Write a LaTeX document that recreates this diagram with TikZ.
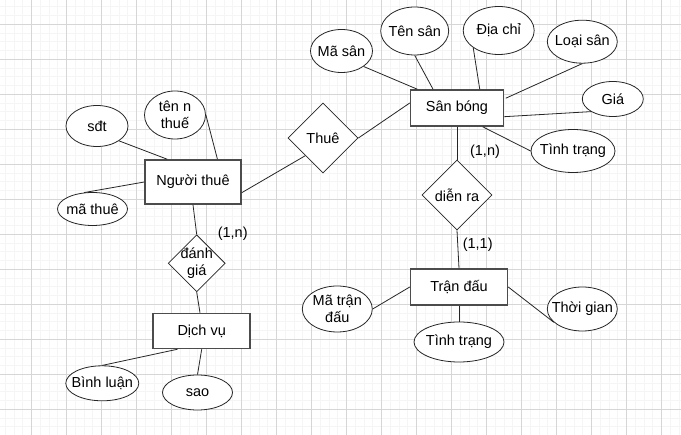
\documentclass[tikz,border=0pt]{standalone}
\usepackage{fontspec}
\setmainfont{Liberation Sans}
\usetikzlibrary{shapes.geometric}
\begin{document}
\begin{tikzpicture}[x=1pt,y=-1pt, font=\fontsize{14.5}{17}\selectfont,
 ent/.style={rectangle, draw=black!70, line width=1.5pt, fill=white, inner sep=0pt},
 attr/.style={ellipse, draw=black!85, line width=0.8pt, fill=white, inner sep=0pt},
 rel/.style={diamond, draw=black!85, line width=0.8pt, fill=white, inner sep=0pt},
 conn/.style={draw=black!85, line width=0.8pt},
 card/.style={inner sep=0pt, text=black},
 every label/.style={align=center, inner sep=0pt}]
\fill[white] (0,0) rectangle (681,435);
\useasboundingbox (0,0) rectangle (681,435);
% grid
\foreach \i in {0,...,77} \draw[black!4, line width=0.8pt] ({5.25+8.75*\i},0) -- ({5.25+8.75*\i},435);
\foreach \j in {0,...,48} \draw[black!4, line width=0.8pt] (0,{6.8+8.75*\j}) -- (681,{6.8+8.75*\j});
\foreach \i in {0,...,18} \draw[black!16, line width=0.7pt] ({31.5+35*\i},0) -- ({31.5+35*\i},435);
\foreach \j in {0,...,11} \draw[black!16, line width=0.7pt] (0,{24.3+35*\j}) -- (681,{24.3+35*\j});

% entities
\node[ent, minimum width=96pt, minimum height=44pt] (nt) at (193,182) {Người thuê};
\node[ent, minimum width=93pt, minimum height=36pt] (sb) at (457,108) {Sân bóng};
\node[ent, minimum width=97pt, minimum height=36pt] (td) at (459,287) {Trận đấu};
\node[ent, minimum width=97pt, minimum height=35pt] (dv) at (201.7,331) {Dịch vụ};

% relationships
\node[rel, minimum width=70pt, minimum height=70pt, label={center:Thuê}] (thue) at (323,138) {};
\node[rel, minimum width=70pt, minimum height=70pt, label={center:diễn ra}] (dr) at (457,195) {};
\node[rel, minimum width=57pt, minimum height=57pt, label={center:đánh\\giá}] (dg) at (196.7,263.3) {};

% attributes
\node[attr, minimum width=62pt, minimum height=41pt, label={center:sđt}] (sdt) at (97,126) {};
\node[attr, minimum width=61pt, minimum height=48pt, label={center:tên n\\thuế}] (tnt) at (175,115) {};
\node[attr, minimum width=70pt, minimum height=33pt, label={center:mã thuê}] (mt) at (92.5,209) {};
\node[attr, minimum width=62pt, minimum height=43pt, label={center:Mã sân}] (ms) at (341.5,51) {};
\node[attr, minimum width=68pt, minimum height=48pt, label={center:Tên sân}] (ts) at (414.7,31) {};
\node[attr, minimum width=71pt, minimum height=48pt, label={center:Địa chỉ}] (dc) at (498.7,30.5) {};
\node[attr, minimum width=70pt, minimum height=43pt, label={center:Loại sân}] (ls) at (582.3,41.7) {};
\node[attr, minimum width=61pt, minimum height=35pt, label={center:Giá}] (gia) at (612.8,99) {};
\node[attr, minimum width=84pt, minimum height=43pt, label={center:Tình trạng}] (tt1) at (573,151) {};
\node[attr, minimum width=70pt, minimum height=46pt, label={center:Mã trận\\đấu}] (mtd) at (337.3,309) {};
\node[attr, minimum width=90pt, minimum height=40pt, label={center:Tình trạng}] (tt2) at (459,342) {};
\node[attr, minimum width=70pt, minimum height=44pt, label={center:Thời gian}] (tg) at (582.3,309) {};
\node[attr, minimum width=73pt, minimum height=35pt, label={center:Bình luận}] (bl) at (102.3,383.3) {};
\node[attr, minimum width=70pt, minimum height=35pt, label={center:sao}] (sao) at (197.5,392.5) {};

% connectors
\draw[conn] (sdt.-34) -- ([xshift=23pt]nt.north west);
\draw[conn] (tnt.east) -- ([xshift=-24.3pt]nt.north east);
\draw[conn] (mt.117) -- (nt.west);
\draw[conn] ([yshift=-10.7pt]nt.east) -- (thue.south west);
\draw[conn] (thue.east) -- ([yshift=5pt]sb.west);
\draw[conn] (ms.-35) -- ([xshift=7.6pt]sb.north west);
\draw[conn] (ts.south) -- ([xshift=23.3pt]sb.north west);
\draw[conn] (dc.214) -- ([xshift=70pt]sb.north west);
\draw[conn] (ls.south) -- ([yshift=-9pt,xshift=1.5pt]sb.north east);
\draw[conn] (gia.210) -- ([yshift=-8.7pt]sb.east);
\draw[conn] (tt1.west) -- ([xshift=-21.6pt]sb.south east);
\draw[conn] (sb.south) -- (dr.north);
\draw[conn] (dr.south) -- (td.north);
\draw[conn] (mtd.east) -- (td.west);
\draw[conn] (td.south) -- (tt2.north);
\draw[conn] (td.east) -- (tg.205);
\draw[conn] (nt.south) -- (dg.north);
\draw[conn] (dg.south) -- ([xshift=-1.7pt]dv.north);
\draw[conn] (bl.north) -- ([xshift=25pt]dv.south west);
\draw[conn] (dv.south) -- (sao.north);

% cardinalities
\node[card] (c1) at (485,152) {(1,n)};
\node[card] (c2) at (477.7,244.3) {(1,1)};
\node[card] (c3) at (232.7,234) {(1,n)};
\end{tikzpicture}
\end{document}
